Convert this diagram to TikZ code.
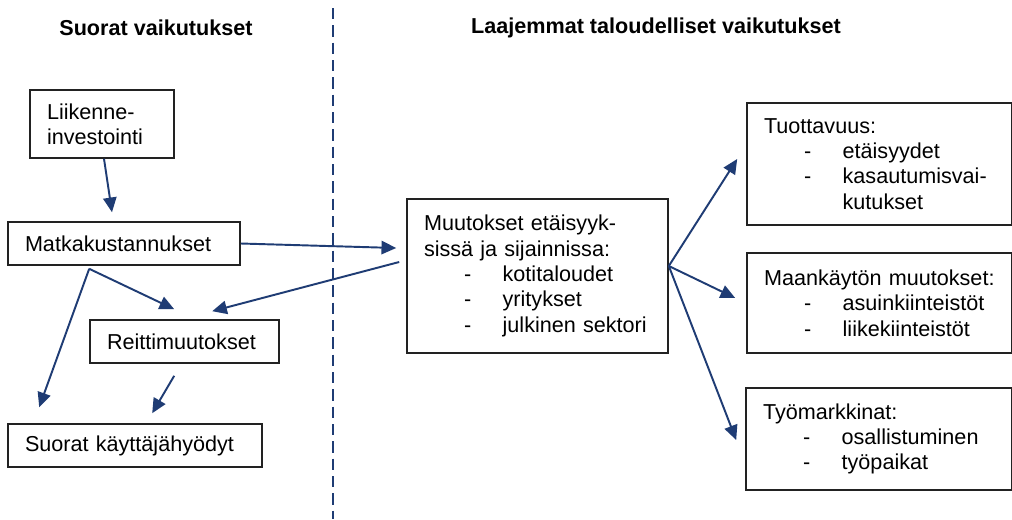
\documentclass[tikz,border=0pt]{standalone}
\usepackage{fontspec}
\setmainfont{Liberation Sans}
\usetikzlibrary{arrows.meta,calc}
\definecolor{navy}{HTML}{1F3C74}
\definecolor{frame}{HTML}{222222}
\newcommand{\dashitem}[1]{\makebox[59pt][l]{\hspace*{30pt}-}#1}

\begin{document}
\begin{tikzpicture}[x=0.75pt,y=-0.75pt,
  font=\fontsize{16.2pt}{19pt}\selectfont,>={Triangle[length=11pt,width=10pt]},
  box/.style={draw=frame,line width=1.2pt,fill=white,inner xsep=12.75pt,inner ysep=0pt,align=left},
  flow/.style={->,navy,line width=1.45pt}]
  \clip (0,0) rectangle (1012,519);
  \fill[white] (0,0) rectangle (1012,519);
  \draw[navy,line width=1.9pt,dash pattern=on 8.5pt off 4.5pt] (333,8) -- (333,519);

  \node[font=\fontsize{16.2pt}{19pt}\selectfont\bfseries] (hdirect) at (156,28) {Suorat vaikutukset};
  \node[font=\fontsize{16.2pt}{19pt}\selectfont\bfseries] (hwider) at (656,28) {Laajemmat taloudelliset vaikutukset};

  % direct effects
  \node[box,text width=82.5pt,minimum height=51pt] (inv) at (102,124) {Liikenne-\\investointi};
  \node[box,text width=148.5pt,minimum height=32.25pt] (matka) at (124,243.5) {Matkakustannukset};
  \node[box,text width=116.25pt,minimum height=32.25pt] (reitti) at (184.5,341.5) {Reittimuutokset};
  \node[box,text width=165pt,minimum height=32.25pt] (suorat) at (135,445.5) {Suorat käyttäjähyödyt};

  % wider economic effects
  \node[box,text width=170.25pt,minimum height=115.5pt] (muut) at (537.5,276)
    {Muutokset etäisyyk-\\sissä ja sijainnissa:\\\dashitem{kotitaloudet}\\\dashitem{yritykset}\\\dashitem{julkinen sektori}};
  \node[box,text width=173.25pt,minimum height=91.5pt] (tuot) at (879.5,164)
    {Tuottavuus:\\\dashitem{etäisyydet}\\\dashitem{kasautumisvai-}\\\hspace*{59pt}kutukset};
  \node[box,text width=173.25pt,minimum height=75pt] (maan) at (879.5,303)
    {Maankäytön muutokset:\\\dashitem{asuinkiinteistöt}\\\dashitem{liikekiinteistöt}};
  \node[box,text width=174pt,minimum height=76.5pt] (tyo) at (879,439)
    {Työmarkkinat:\\\dashitem{osallistuminen}\\\dashitem{työpaikat}};

  \coordinate (split) at ($(matka.south west)+(82,3)$);
  \coordinate (fork) at ($(muut.east)+(0,-10)$);

  \draw[flow] ($(inv.south)+(2,0)$) -- ($(matka.north)+(-12,-9)$);
  \draw[flow] (matka.east) -- ($(muut.west)+(-10,-28)$);
  \draw[flow] ($(muut.west)+(-7,-14)$) -- ($(reitti.north west)+(123,-8)$);
  \draw[flow] (split) -- ($(reitti.north west)+(85,-10)$);
  \draw[flow] (split) -- ($(suorat.north west)+(32,-16)$);
  \draw[flow] ($(reitti.south west)+(85,12)$) -- ($(suorat.north west)+(145,-10)$);
  \draw[flow] (fork) -- ($(tuot.west)+(-9,-5)$);
  \draw[flow] (fork) -- ($(maan.west)+(-11,-5)$);
  \draw[flow] (fork) -- ($(tyo.west)+(-9,1)$);
\end{tikzpicture}
\end{document}
